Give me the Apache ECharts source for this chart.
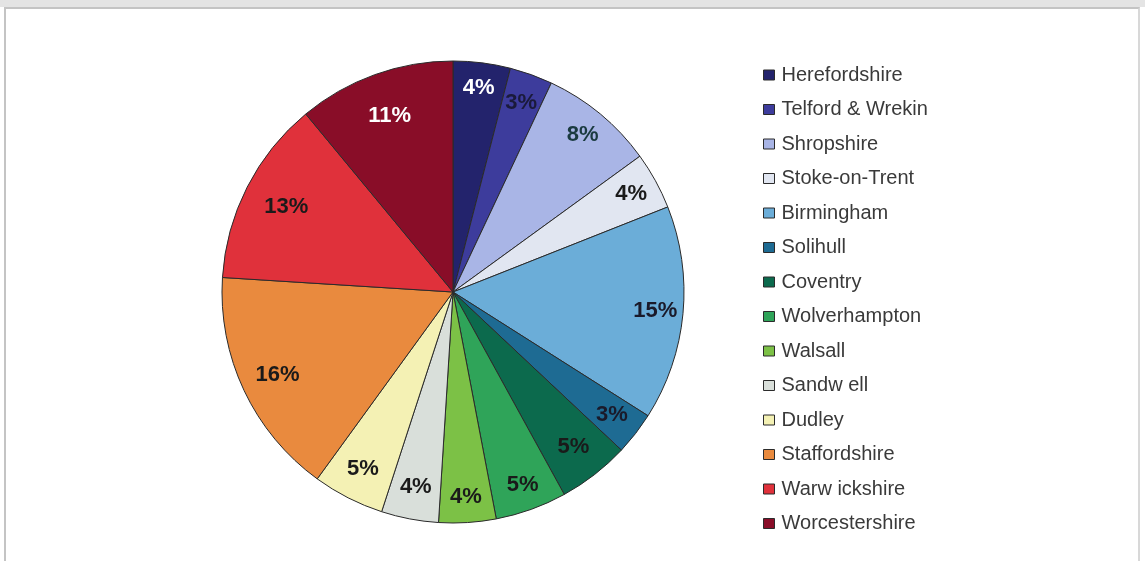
<!DOCTYPE html>
<html>
<head>
<meta charset="utf-8">
<script src="https://cdn.jsdelivr.net/npm/echarts@6/dist/echarts.min.js"></script>
<style>
  html, body { margin: 0; padding: 0; background: #ffffff; }
  #topband { position: absolute; left: 0; top: 0; width: 1145px; height: 7px; background: #e4e4e4; }
  #frame { position: absolute; left: 4px; top: 7px; width: 1136px; height: 560px;
           border-left: 2px solid #c4c4c4; border-top: 2px solid #c4c4c4; border-right: 2px solid #d8d8d8;
           box-sizing: border-box; }
  #chart { position: absolute; left: 0; top: 0; width: 1145px; height: 561px; }
</style>
</head>
<body>
<div id="topband"></div>
<div id="frame"></div>
<div id="chart"></div>
<script>
// Share of total by area (percent)
const areas = [
  'Herefordshire', 'Telford & Wrekin', 'Shropshire', 'Stoke-on-Trent', 'Birmingham',
  'Solihull', 'Coventry', 'Wolverhampton', 'Walsall', 'Sandw ell', 'Dudley',
  'Staffordshire', 'Warw ickshire', 'Worcestershire'
];
const shares = [4, 3, 8, 4, 15, 3, 5, 5, 4, 4, 5, 16, 13, 11];

const sliceColors = [
  '#23236c', '#3d3c9c', '#a9b5e6', '#e1e6f1', '#6badd8',
  '#1e6b93', '#0c6a4d', '#2fa459', '#7cc146', '#d9dfda', '#f4f1b4',
  '#e98a3e', '#e0313b', '#890d28'
];
const labelColors = [
  '#ffffff', '#1a1a3a', '#1a3a40', '#1a1a1a', '#1a1a2a',
  '#1a1a2a', '#1a1a1a', '#1a1a1a', '#1a1a1a', '#1a1a1a', '#1a1a1a',
  '#1a1a1a', '#1a1a1a', '#ffffff'
];

const CX = 453, CY = 292, R = 231;
// label distance from centre, as a fraction of the radius
const labelRadius = [0.89, 0.87, 0.88, 0.88, 0.88, 0.87, 0.85, 0.89, 0.89, 0.86, 0.86, 0.84, 0.81, 0.81];
const total = shares.reduce((a, b) => a + b, 0);
// mid-angle of each slice, clockwise from 12 o'clock
const midAngles = [];
{
  let acc = 0;
  shares.forEach(v => {
    midAngles.push((acc + v / 2) / total * Math.PI * 2);
    acc += v;
  });
}

const chart = echarts.init(document.getElementById('chart'), null, { renderer: 'canvas' });
chart.setOption({
  animation: false,
  backgroundColor: 'transparent',
  legend: {
    orient: 'vertical',
    left: 758,
    top: 60,
    icon: 'rect',
    itemWidth: 11,
    itemHeight: 10,
    itemGap: 14.5,
    itemStyle: { borderColor: '#2b2b2b', borderWidth: 1 },
    textStyle: {
      fontFamily: 'Liberation Sans, Arial, sans-serif',
      fontSize: 20,
      lineHeight: 20,
      color: '#3a3a3a',
      padding: [0, 0, 0, 2]
    },
    data: areas
  },
  series: [{
    type: 'pie',
    center: [CX, CY],
    radius: [0, R],
    startAngle: 90,
    clockwise: true,
    avoidLabelOverlap: false,
    itemStyle: { borderColor: '#2a2a2a', borderWidth: 1 },
    label: {
      show: true,
      position: 'inside',
      formatter: '{c}%',
      fontFamily: 'Liberation Sans, Arial, sans-serif',
      fontWeight: 'bold',
      fontSize: 22,
      align: 'center',
      verticalAlign: 'middle'
    },
    labelLine: { show: false },
    labelLayout: function (p) {
      const a = midAngles[p.dataIndex];
      const r = labelRadius[p.dataIndex] * R;
      return {
        x: CX + r * Math.sin(a),
        y: CY - r * Math.cos(a),
        align: 'center',
        verticalAlign: 'middle'
      };
    },
    emphasis: { disabled: true },
    data: areas.map((name, i) => ({
      name: name,
      value: shares[i],
      itemStyle: { color: sliceColors[i] },
      label: { color: labelColors[i] }
    }))
  }]
});
</script>
</body>
</html>
